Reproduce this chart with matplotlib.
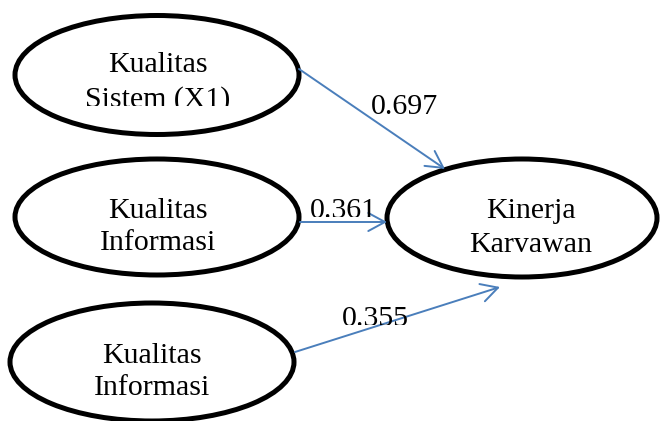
import matplotlib.pyplot as plt
from matplotlib.patches import Ellipse, Rectangle

# nodes of the path diagram (two text lines each)
node_lines = [
    ["Kualitas", "Sistem (X1)"],
    ["Kualitas", "Informasi"],
    ["Kualitas", "Informasi"],
    ["Kinerja", "Karvawan"],
]
node_x = [157, 157, 152, 522]
node_y = [75, 217, 362, 218]
text_x = [158, 158, 152, 531]
text_base = [[72, 107], [218, 250], [363, 395], [218, 252]]

# path coefficients
coef_labels = ["0.697", "0.361", "0.355"]
path_from = [(299, 69), (300, 222), (295, 352)]
path_to = [(445, 169), (387, 222), (500, 287)]
label_pos = [(405, 114), (343, 218), (375, 326)]

BLUE = "#4a7ebb"
FONT = "Liberation Serif"


def clip_text(ax, t, x, y, w, h):
    """Cut a text at a box, like the text frames of the original"""
    t.set_clip_path(Rectangle((x, y), w, h, transform=ax.transData))
    t.set_clip_on(True)


def main():
    fig = plt.figure(figsize=(6.63, 4.21), dpi=100)
    ax = fig.add_axes([0, 0, 1, 1])
    ax.set_xlim(0, 663)
    ax.set_ylim(421, 0)
    ax.axis("off")

    widths = [284, 284, 284, 270]
    heights = [119, 116, 118, 118]
    for i, lines in enumerate(node_lines):
        ax.add_patch(Ellipse((node_x[i], node_y[i]), widths[i], heights[i],
                             fill=False, lw=3.6, ec="black"))
        for line, base in zip(lines, text_base[i]):
            t = ax.text(text_x[i], base, line, ha="center", va="baseline",
                        fontsize=21.5, family=FONT)
            if i == 0 and line.startswith("Sistem"):
                clip_text(ax, t, 40, 40, 240, 65.5)

    for (x0, y0), (x1, y1) in zip(path_from, path_to):
        ax.annotate("", xy=(x1, y1), xytext=(x0, y0),
                    arrowprops=dict(arrowstyle="->,head_length=1.2,head_width=0.65",
                                    color=BLUE, lw=1.4, shrinkA=0, shrinkB=0))

    clips = [None, (300, 180, 90, 36.5), (320, 290, 110, 34.5)]
    for lab, (x, y), clip in zip(coef_labels, label_pos, clips):
        t = ax.text(x, y, lab, ha="center", va="baseline",
                    fontsize=21.5, family=FONT)
        if clip is not None:
            clip_text(ax, t, *clip)

    fig.savefig("out.png", dpi=100)


if __name__ == "__main__":
    main()
